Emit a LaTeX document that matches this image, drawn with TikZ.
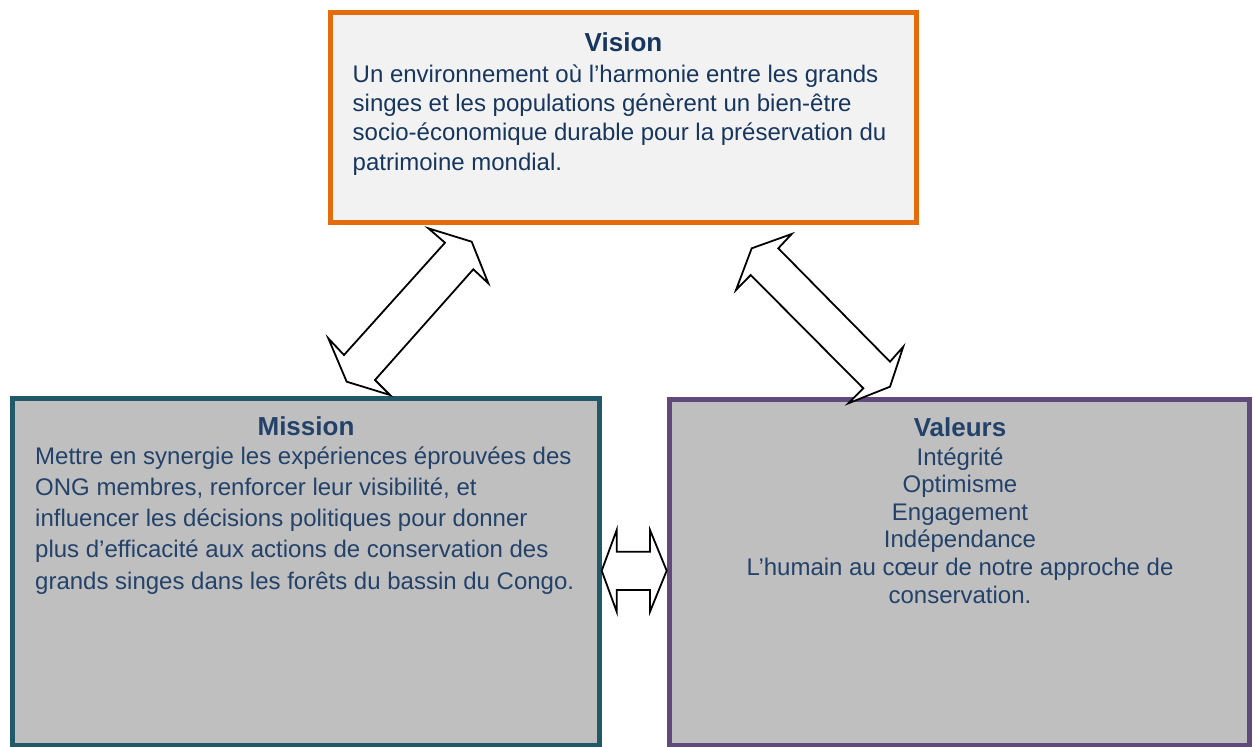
\documentclass[tikz,border=0pt]{standalone}
\usepackage{fontspec}
\setmainfont{Liberation Sans}
\definecolor{visionborder}{HTML}{E46C0A}
\definecolor{missionborder}{HTML}{215968}
\definecolor{valeursborder}{HTML}{604A7B}
\definecolor{lightfill}{HTML}{F2F2F2}
\definecolor{greyfill}{HTML}{BFBFBF}
\definecolor{visiontext}{HTML}{17365D}
\definecolor{bodytext}{HTML}{23426A}
\tikzset{
  panel/.style={draw, line width=5pt, minimum width=#1, inner sep=0pt},
  titletext/.style={anchor=base, inner sep=0pt, font=\fontsize{26}{30}\selectfont\bfseries},
  bodyblock/.style={inner sep=0pt},
  blockarrow/.style={draw=black, fill=white, line width=1.8pt, line join=miter}
}
\begin{document}
\begin{tikzpicture}[x=1pt,y=-1pt]
\useasboundingbox (0,0) rectangle (1254,747);
\fill[white] (0,0) rectangle (1254,747);

% panels
\node[panel=586pt, draw=visionborder, fill=lightfill, minimum height=210pt] (vision) at (623.5,117.5) {};
\node[panel=587pt, draw=missionborder, fill=greyfill, minimum height=346.5pt] (mission) at (306,571.75) {};
\node[panel=580pt, draw=valeursborder, fill=greyfill, minimum height=345.5pt] (valeurs) at (959.5,572.25) {};

% texts
\node[titletext, text=visiontext] (visiontitle) at (623.5,51) {Vision};
\node[bodyblock, anchor=base west, text=visiontext] (visionbody) at (352.5,82.3)
  {\parbox[t]{560pt}{\fontsize{24}{29.3}\selectfont\raggedright
  Un environnement où l’harmonie entre les grands\\
  singes et les populations génèrent un bien-être\\
  socio-économique durable pour la préservation du\\
  patrimoine mondial.}};

\node[titletext, text=bodytext] (missiontitle) at (306,435) {Mission};
\node[bodyblock, anchor=base west, text=bodytext] (missionbody) at (35,464)
  {\parbox[t]{560pt}{\fontsize{24}{31.3}\selectfont\raggedright
  Mettre en synergie les expériences éprouvées des\\
  ONG membres, renforcer leur visibilité, et\\
  influencer les décisions politiques pour donner\\
  plus d’efficacité aux actions de conservation des\\
  grands singes dans les forêts du bassin du Congo.}};

\node[titletext, text=bodytext] (valeurstitle) at (960,436.7) {Valeurs};
\node[bodyblock, anchor=base, text=bodytext] (valeursbody) at (960,465)
  {\parbox[t]{540pt}{\fontsize{24}{27.6}\selectfont\centering
  Intégrité\\
  Optimisme\\
  Engagement\\
  Indépendance\\
  L’humain au cœur de notre approche de\\
  conservation.}};

% double block arrows
\draw[blockarrow] (471.7,241.7) -- (488.3,283.3) -- (473.3,269.3) -- (375,380)
  -- (390,395) -- (346.7,381.7) -- (328.3,338.3) -- (344,355) -- (445,242.7)
  -- (428.3,228.3) -- cycle;
\draw[blockarrow] (791.7,234) -- (751.7,248.3) -- (736,290) -- (750.7,275)
  -- (863.3,388.3) -- (848.3,403.3) -- (890,386.7) -- (903.3,346.7)
  -- (890,361.7) -- (778.3,248.3) -- cycle;
\draw[blockarrow] (601.7,570.7) -- (616.7,530) -- (616.7,551.7) -- (650,551.7)
  -- (650,530) -- (666.7,570.7) -- (650,611.7) -- (650,590) -- (616.7,590)
  -- (616.7,611.7) -- cycle;
\end{tikzpicture}
\end{document}
